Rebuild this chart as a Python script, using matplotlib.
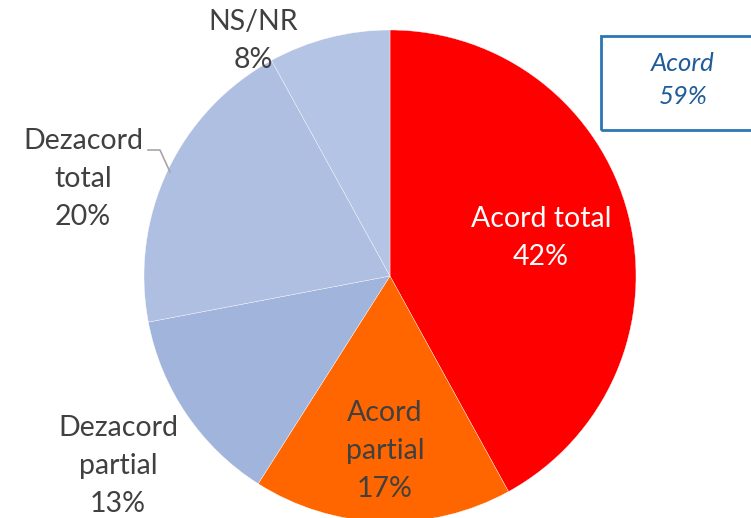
import matplotlib.pyplot as plt

labels = ['Acord total', 'Acord\npartial', 'Dezacord\npartial', 'Dezacord\ntotal', 'NS/NR']
values = [42, 17, 13, 20, 8]
colors = ['#FF0000', '#FF6600', '#A1B4DC', '#AFBFE1', '#B4C4E4']
summary_label = 'Acord'
summary_value = 59

W, H = 751, 518
fig = plt.figure(figsize=(W / 100, H / 100), dpi=100)
ax = fig.add_axes([0, 0, 1, 1])

# pie centre and radius in pixel units (y measured from bottom)
cx, cy, r = 390, H - 276, 246
ax.pie(values, colors=colors, startangle=90, counterclock=False,
       center=(cx, cy), radius=r, frame=True,
       wedgeprops=dict(edgecolor='white', linewidth=0.25))
ax.set_xlim(0, W)
ax.set_ylim(0, H)
ax.set_aspect('equal')
ax.axis('off')

font = 'Lato'
txt = dict(fontsize=20.5, family=font, ha='center', va='center', linespacing=1.55)

# label positions (pixel coords, top-down y)
pos = [(541, 238), (385, 451), (118, 466), (83, 179), (253, 41)]
for i, (lab, val, (px, py)) in enumerate(zip(labels, values, pos)):
    color = 'white' if i == 0 else '#404040'
    ax.text(px, H - py, f'{lab}\n{val}%', color=color, **txt)

# leader line for Dezacord total
ax.plot([148, 160, 170], [H - 150, H - 150, H - 172], color='#A6A6A6', lw=1.2)

# summary box
box = plt.Rectangle((601, H - 130), 170, 94, fill=False, edgecolor='#2E75B6', lw=2)
ax.add_patch(box)
ax.text(683, H - 80, f'{summary_label}\n{summary_value}%', color='#1F5C99', fontsize=18.5,
        family=font, style='italic', ha='center', va='center', linespacing=1.5)

fig.savefig('out.png', dpi=100)
